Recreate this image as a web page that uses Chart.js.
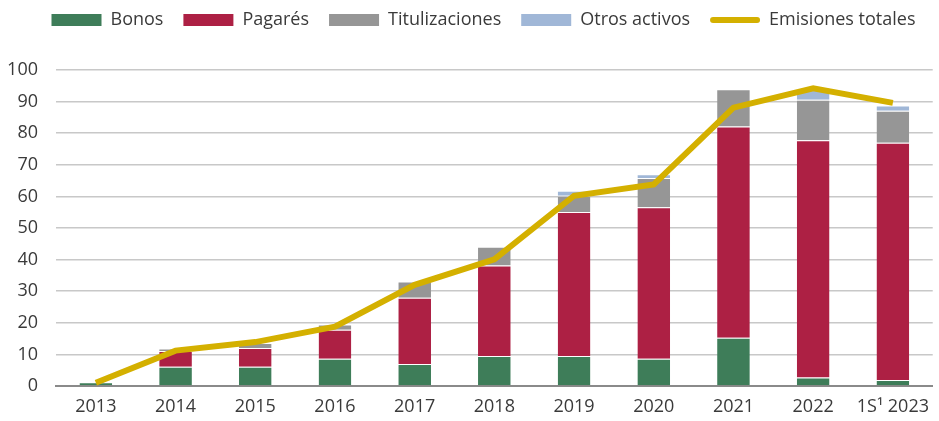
<!DOCTYPE html>
<html>
<head>
<meta charset="utf-8">
<script src="https://cdn.jsdelivr.net/npm/chart.js@4.4.1/dist/chart.umd.min.js"></script>
<style>
  html, body { margin: 0; padding: 0; background: #fff; }
  #wrap { width: 939px; height: 421px; position: relative; }
</style>
</head>
<body>
<div id="wrap"><canvas id="chart"></canvas></div>
<script>
const categories = ['2013', '2014', '2015', '2016', '2017', '2018', '2019', '2020', '2021', '2022', '1S\u00B9 2023'];
const bonos = [1.2, 6.1, 6.1, 8.6, 7.0, 9.5, 9.5, 8.6, 15.3, 2.7, 1.9];
const pagares = [0, 5.0, 5.9, 9.2, 20.9, 28.6, 45.6, 48.0, 66.8, 75.1, 75.1];
const titulizaciones = [0, 0.8, 1.6, 1.7, 5.2, 6.0, 5.1, 9.2, 11.8, 12.8, 10.1];
const otros = [0, 0, 0, 0, 0, 0, 1.6, 1.2, 0, 3.1, 1.7];
const totales = [1.0, 11.2, 13.9, 18.8, 32.0, 40.1, 60.2, 63.8, 88.1, 94.2, 89.6];
const yTicks = [0, 10, 20, 30, 40, 50, 60, 70, 80, 90, 100];

const FONT = "'Open Sans', 'Noto Sans', sans-serif";
const TXT = '#3a3a3a';
const LEGEND_SHIFT = 14; // legend sits a bit right of centre in the original

function barSet(label, data, color) {
  return {
    type: 'bar', label: label, data: data, backgroundColor: color,
    borderColor: 'rgba(255,255,255,0.35)', borderWidth: { top: 1 }, borderSkipped: 'bottom',
    barPercentage: 0.41, categoryPercentage: 1, stack: 's', order: 2
  };
}

new Chart(document.getElementById('chart'), {
  data: {
    labels: categories,
    datasets: [
      barSet('Bonos', bonos, '#3e7d59'),
      barSet('Pagarés', pagares, '#ad2044'),
      barSet('Titulizaciones', titulizaciones, '#969696'),
      barSet('Otros activos', otros, '#a0b7d7'),
      {
        type: 'line', label: 'Emisiones totales', data: totales,
        borderColor: '#d4b000', backgroundColor: '#d4b000', borderWidth: 6,
        pointRadius: 0, tension: 0, order: 1, borderCapStyle: 'butt'
      }
    ]
  },
  options: {
    responsive: true,
    maintainAspectRatio: false,
    animation: false,
    layout: { padding: { top: -9, right: 0, bottom: 0, left: 0 } },
    plugins: {
      tooltip: { enabled: false },
      legend: {
        position: 'top',
        labels: {
          font: { family: FONT, size: 18 },
          color: TXT,
          boxWidth: 50,
          boxHeight: 12,
          padding: 20,
          generateLabels: chart => chart.data.datasets.map((ds, i) => ({
            text: ds.label,
            fillStyle: ds.type === 'line' ? 'rgba(0,0,0,0)' : ds.backgroundColor,
            strokeStyle: ds.type === 'line' ? ds.borderColor : ds.backgroundColor,
            lineWidth: 0,
            datasetIndex: i,
            fontColor: TXT
          }))
        }
      }
    },
    scales: {
      x: {
        stacked: true,
        offset: true,
        afterFit: s => { s.height = 35; },
        grid: { display: false, drawTicks: false },
        border: { display: true, color: '#8a8a8a', width: 2 },
        ticks: { font: { family: FONT, size: 18 }, color: TXT, padding: 10, maxRotation: 0, autoSkip: false }
      },
      y: {
        stacked: true,
        min: 0, max: 100,
        afterBuildTicks: s => { s.ticks = yTicks.map(v => ({ value: v })); },
        afterFit: s => { s.width = 56; },
        grid: { color: '#c8c8c8', lineWidth: 1.5, drawTicks: false },
        border: { display: false },
        ticks: { font: { family: FONT, size: 18 }, color: TXT, padding: 18 }
      }
    }
  },
  plugins: [{
    id: 'legendGap',
    beforeInit(chart) {
      const lg = chart.legend;
      if (!lg) return;
      const fit = lg.fit;
      lg.fit = function () { fit.call(this); this.height += 31; };
      const draw = lg.draw;
      lg.draw = function () {
        this.ctx.save();
        this.ctx.translate(LEGEND_SHIFT, 0);
        draw.call(this);
        this.ctx.restore();
      };
    }
  }, {
    id: 'lineLegend',
    afterDraw(chart) {
      const lg = chart.legend;
      if (!lg || !lg.legendHitBoxes) return;
      const ctx = chart.ctx;
      lg.legendHitBoxes.forEach((hb, i) => {
        const ds = chart.data.datasets[i];
        if (ds.type !== 'line') return;
        const y = hb.top + hb.height / 2;
        const x0 = hb.left + LEGEND_SHIFT;
        ctx.save();
        ctx.strokeStyle = ds.borderColor;
        ctx.lineWidth = 6;
        ctx.lineCap = 'round';
        ctx.beginPath();
        ctx.moveTo(x0 + 3, y);
        ctx.lineTo(x0 + 50 - 3, y);
        ctx.stroke();
        ctx.restore();
      });
    }
  }]
});
</script>
</body>
</html>
